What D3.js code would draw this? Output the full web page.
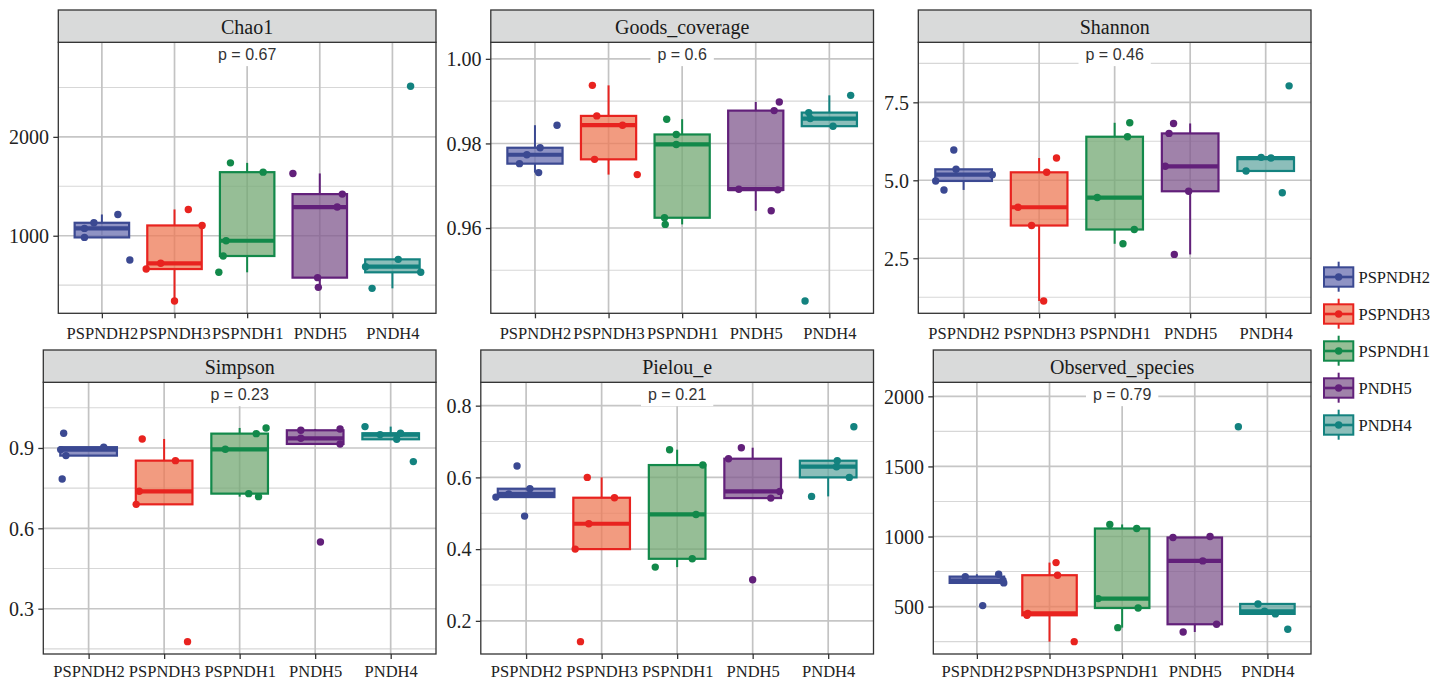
<!DOCTYPE html>
<html>
<head>
<meta charset="utf-8">
<script src="https://cdn.jsdelivr.net/npm/d3@7"></script>
<style>
  html, body { margin: 0; padding: 0; background: #fff; }
  svg { display: block; }
</style>
</head>
<body>
<svg id="chart" width="1445" height="684"></svg>
<script>
// ---- data -------------------------------------------------------------
const groups = ["PSPNDH2", "PSPNDH3", "PSPNDH1", "PNDH5", "PNDH4"];
const lineColors = ["#3B4992", "#E8231F", "#12894A", "#62207A", "#13827F"];
const fillColors = ["#6A6FB0", "#EE7A56", "#73A873", "#80588E", "#66A8A3"];

const metrics = ["Chao1", "Goods_coverage", "Shannon", "Simpson", "Pielou_e", "Observed_species"];
const pLabels = ["p = 0.67", "p = 0.6", "p = 0.46", "p = 0.23", "p = 0.21", "p = 0.79"];
const pLabelY = [2832, 1.001, 9.03, 1.099, 0.8307, 2012];
const tickValues = [
  [1000, 2000],
  [0.96, 0.98, 1.00],
  [2.5, 5.0, 7.5],
  [0.3, 0.6, 0.9],
  [0.2, 0.4, 0.6, 0.8],
  [500, 1000, 1500, 2000]
];
const tickFormats = ["d", ".2f", ".1f", ".1f", ".1f", "d"];

// sample values per group (five samples each)
const chao1Values = [
  [1074, 1131, 1215, 983, 755],
  [1266, 1104, 721, 663, 340],
  [1737, 1643, 949, 795, 630],
  [1630, 1421, 1290, 576, 478],
  [2512, 761, 687, 630, 468]
];
const goodsValues = [
  [0.98431, 0.97898, 0.97733, 0.97522, 0.97310],
  [0.99373, 0.98651, 0.98431, 0.97624, 0.97263],
  [0.98573, 0.98212, 0.97976, 0.96243, 0.96086],
  [0.98980, 0.98776, 0.96918, 0.96902, 0.96408],
  [0.99137, 0.98729, 0.98588, 0.98408, 0.94275]
];
const shannonValues = [
  [5.970, 5.352, 5.181, 4.979, 4.691],
  [5.714, 5.256, 4.136, 3.550, 1.13],
  [6.844, 6.397, 4.446, 3.422, 2.964],
  [6.823, 6.503, 5.448, 4.648, 2.623],
  [8.028, 5.736, 5.714, 5.299, 4.60]
];
const simpsonValues = [
  [0.955, 0.9030, 0.8938, 0.8714, 0.7842],
  [0.9336, 0.8527, 0.7382, 0.6896, 0.177],
  [0.9747, 0.9535, 0.8950, 0.7295, 0.7183],
  [0.971, 0.966, 0.936, 0.915, 0.549],
  [0.9797, 0.9548, 0.9498, 0.9324, 0.849]
];
const pielouValues = [
  [0.6316, 0.5684, 0.5535, 0.5451, 0.4921],
  [0.600, 0.5433, 0.4707, 0.400, 0.142],
  [0.6772, 0.6344, 0.4967, 0.373, 0.3498],
  [0.6828, 0.6521, 0.5609, 0.5423, 0.3144],
  [0.7414, 0.6465, 0.6298, 0.600, 0.547]
];
const observedValues = [
  [731, 714, 686, 669, 507],
  [814, 724, 452, 438, 250],
  [1086, 1057, 557, 490, 350],
  [1000, 993, 826, 374, 319],
  [1783, 519, 467, 448, 338]
];

// horizontal jitter of each sample point, in category units
const chao1Jitter = [
  [-0.24, -0.11, 0.22, -0.24, 0.385],
  [0.19, 0.38, -0.19, -0.39, 0.0],
  [-0.23, 0.22, -0.29, -0.33, -0.39],
  [-0.37, 0.31, 0.24, -0.03, -0.02],
  [0.25, 0.08, -0.37, 0.39, -0.28]
];
const goodsJitter = [
  [0.30, 0.07, -0.11, -0.21, 0.05],
  [-0.22, -0.16, 0.19, -0.19, 0.39],
  [-0.21, -0.08, -0.08, -0.24, -0.23],
  [0.32, 0.25, -0.23, 0.30, 0.21],
  [0.29, -0.28, -0.26, 0.05, -0.33]
];
const shannonJitter = [
  [-0.13, -0.10, 0.38, -0.37, -0.26],
  [0.23, 0.10, -0.28, -0.10, 0.06],
  [0.20, 0.17, -0.23, 0.26, 0.11],
  [-0.22, -0.28, -0.33, -0.02, -0.21],
  [0.31, -0.06, 0.07, -0.26, 0.22]
];
const simpsonJitter = [
  [-0.33, 0.20, -0.37, -0.30, -0.35],
  [-0.29, 0.15, -0.33, -0.37, 0.31],
  [0.35, 0.22, -0.19, 0.12, 0.25],
  [0.33, -0.19, -0.19, 0.33, 0.07],
  [-0.34, 0.13, -0.14, 0.08, 0.30]
];
const pielouJitter = [
  [-0.12, 0.05, -0.23, -0.40, -0.02],
  [-0.19, 0.17, -0.17, -0.35, -0.28],
  [-0.10, 0.34, 0.25, 0.20, -0.29],
  [-0.15, -0.32, 0.36, 0.24, 0.0],
  [0.34, 0.12, 0.11, 0.28, -0.22]
];
const observedJitter = [
  [0.30, -0.16, 0.36, 0.37, 0.08],
  [0.09, 0.11, -0.30, -0.31, 0.34],
  [-0.17, 0.20, -0.33, 0.22, -0.06],
  [0.21, -0.30, 0.11, 0.30, -0.16],
  [-0.40, -0.13, -0.04, 0.11, 0.28]
];

const panelValues = [chao1Values, goodsValues, shannonValues, simpsonValues, pielouValues, observedValues];
const panelJitter = [chao1Jitter, goodsJitter, shannonJitter, simpsonJitter, pielouJitter, observedJitter];

// ---- layout -----------------------------------------------------------
const svg = d3.select("#chart");
const SERIF = "'Liberation Serif', 'Times New Roman', serif";
const SANS = "'Liberation Sans', Arial, sans-serif";
const colX = [0, 437.5, 875];
const cellW = 436;
const rowsLayout = [
  { top: 10, bottom: 313.3, labelBase: 339 },
  { top: 350, bottom: 654, labelBase: 677 }
];
const stripH = 32.3;
const yLabelSize = 20, xLabelSize = 16.5;
const boxLW = 2.2, medianLW = 4.2, pointR = 3.7;

function textWidth(str, size, family) {
  const t = svg.append("text").attr("font-size", size).attr("font-family", family).text(str);
  const w = t.node().getComputedTextLength();
  t.remove();
  return w;
}

function boxStats(vals) {
  const s = vals.slice().sort(d3.ascending);
  const q1 = d3.quantileSorted(s, 0.25), med = d3.quantileSorted(s, 0.5), q3 = d3.quantileSorted(s, 0.75);
  const iqr = q3 - q1;
  const lo = d3.min(s.filter(v => v >= q1 - 1.5 * iqr));
  const hi = d3.max(s.filter(v => v <= q3 + 1.5 * iqr));
  return { q1, med, q3, lo, hi };
}

metrics.forEach((name, i) => {
  const col = i % 3;
  const row = rowsLayout[Math.floor(i / 3)];
  const fmt = d3.format(tickFormats[i]);
  const ticks = tickValues[i];
  const maxW = d3.max(ticks, t => textWidth(fmt(t), yLabelSize, SERIF));
  const x0 = colX[col] + 9 + maxW + 9.3;
  const x1 = colX[col] + cellW;
  const yTop = row.top + stripH;
  const yBot = row.bottom;

  const vals = panelValues[i];
  const lo = d3.min(vals.flat());
  const hi = pLabelY[i];
  const pad = (hi - lo) * 0.05;
  const y = d3.scaleLinear().domain([lo - pad, hi + pad]).range([yBot, yTop]);
  const x = d3.scalePoint().domain(groups).range([x0, x1]).padding(0.6);
  const unit = x.step();

  const g = svg.append("g");

  // minor horizontal grid (between major breaks)
  const step = ticks[1] - ticks[0];
  const minor = [];
  for (let k = -1; k < ticks.length; k++) {
    const v = ticks[0] + (k + 0.5) * step;
    if (v > y.domain()[0] && v < y.domain()[1]) minor.push(v);
  }
  g.selectAll(".minor").data(minor).join("line")
    .attr("x1", x0).attr("x2", x1)
    .attr("y1", d => y(d)).attr("y2", d => y(d))
    .attr("stroke", "#D7D7D7").attr("stroke-width", 1.1);

  // major grid
  g.selectAll(".majorY").data(ticks).join("line")
    .attr("x1", x0).attr("x2", x1)
    .attr("y1", d => y(d)).attr("y2", d => y(d))
    .attr("stroke", "#C6C6C6").attr("stroke-width", 1.6);
  g.selectAll(".majorX").data(groups).join("line")
    .attr("x1", d => x(d)).attr("x2", d => x(d))
    .attr("y1", yTop).attr("y2", yBot)
    .attr("stroke", "#C3C3C3").attr("stroke-width", 1.7);

  // p-value label box (white background hides grid behind text)
  const labelX = x(groups[2]);
  const labelCy = y(hi);
  const lw = textWidth(pLabels[i], 16, SANS);
  g.append("rect")
    .attr("x", labelX - lw / 2 - 7).attr("y", labelCy - 11.5)
    .attr("width", lw + 14).attr("height", 23)
    .attr("fill", "#fff");
  g.append("text")
    .attr("x", labelX).attr("y", labelCy + 5.7)
    .attr("text-anchor", "middle")
    .attr("font-family", SANS).attr("font-size", 16)
    .attr("fill", "#333")
    .text(pLabels[i]);

  // boxes
  const hw = unit * 0.375;
  groups.forEach((gname, j) => {
    const st = boxStats(vals[j]);
    const cx = x(gname);
    const c = lineColors[j];
    const bg = g.append("g");
    bg.append("line").attr("x1", cx).attr("x2", cx).attr("y1", y(st.q3)).attr("y2", y(st.hi))
      .attr("stroke", c).attr("stroke-width", 2);
    bg.append("line").attr("x1", cx).attr("x2", cx).attr("y1", y(st.q1)).attr("y2", y(st.lo))
      .attr("stroke", c).attr("stroke-width", 2);
    bg.append("rect")
      .attr("x", cx - hw).attr("width", hw * 2)
      .attr("y", y(st.q3)).attr("height", Math.max(0.5, y(st.q1) - y(st.q3)))
      .attr("fill", fillColors[j]).attr("fill-opacity", 0.75)
      .attr("stroke", c).attr("stroke-width", boxLW);
    bg.append("line").attr("x1", cx - hw).attr("x2", cx + hw)
      .attr("y1", y(st.med)).attr("y2", y(st.med))
      .attr("stroke", c).attr("stroke-width", medianLW);
  });

  // jittered sample points
  groups.forEach((gname, j) => {
    const pts = vals[j].map((v, k) => ({ v, dx: panelJitter[i][j][k] }));
    g.append("g").selectAll("circle").data(pts).join("circle")
      .attr("cx", d => x(gname) + d.dx * unit)
      .attr("cy", d => y(d.v))
      .attr("r", pointR)
      .attr("fill", lineColors[j]);
  });

  // panel border
  g.append("rect").attr("x", x0).attr("y", yTop).attr("width", x1 - x0).attr("height", yBot - yTop)
    .attr("fill", "none").attr("stroke", "#333").attr("stroke-width", 1.3);

  // strip
  g.append("rect").attr("x", x0).attr("y", row.top).attr("width", x1 - x0).attr("height", stripH)
    .attr("fill", "#D9DADA").attr("stroke", "#333").attr("stroke-width", 1.3);
  g.append("text")
    .attr("x", (x0 + x1) / 2).attr("y", row.top + 23.5)
    .attr("text-anchor", "middle")
    .attr("font-family", SERIF).attr("font-size", 20).attr("fill", "#1a1a1a")
    .text(name);

  // y axis
  const ya = g.append("g").attr("transform", `translate(${x0},0)`)
    .call(d3.axisLeft(y).tickValues(ticks).tickFormat(fmt).tickSize(5).tickPadding(4.3));
  ya.select(".domain").remove();
  ya.selectAll("line").attr("stroke", "#333").attr("stroke-width", 1.3);
  ya.selectAll("text").attr("font-family", SERIF).attr("font-size", yLabelSize).attr("fill", "#222")
    .attr("dy", "0.34em");

  // x axis
  const xa = g.append("g").attr("transform", `translate(0,${yBot})`)
    .call(d3.axisBottom(x).tickSize(5).tickPadding(5));
  xa.select(".domain").remove();
  xa.selectAll("line").attr("stroke", "#333").attr("stroke-width", 1.3);
  xa.selectAll("text").attr("font-family", SERIF).attr("font-size", xLabelSize).attr("fill", "#222")
    .attr("y", row.labelBase - yBot).attr("dy", 0);
});

// ---- legend -----------------------------------------------------------
const legend = svg.append("g");
groups.forEach((gname, j) => {
  const cy = 277 + j * 37;
  const kx = 1324, kw = 29.3, cx = kx + kw / 2;
  const c = lineColors[j];
  legend.append("line").attr("x1", cx).attr("x2", cx).attr("y1", cy - 15.3).attr("y2", cy + 14.7)
    .attr("stroke", c).attr("stroke-width", 2);
  legend.append("rect").attr("x", kx).attr("y", cy - 9.7).attr("width", kw).attr("height", 19.4)
    .attr("fill", "#fff");
  legend.append("rect").attr("x", kx).attr("y", cy - 9.7).attr("width", kw).attr("height", 19.4)
    .attr("fill", fillColors[j]).attr("fill-opacity", 0.75)
    .attr("stroke", c).attr("stroke-width", 2);
  legend.append("line").attr("x1", kx).attr("x2", kx + kw).attr("y1", cy).attr("y2", cy)
    .attr("stroke", c).attr("stroke-width", 2.6);
  legend.append("circle").attr("cx", cx).attr("cy", cy).attr("r", pointR).attr("fill", c);
  legend.append("text").attr("x", 1358.5).attr("y", cy + 5.6)
    .attr("font-family", SERIF).attr("font-size", xLabelSize).attr("fill", "#1a1a1a")
    .text(gname);
});
</script>
</body>
</html>
